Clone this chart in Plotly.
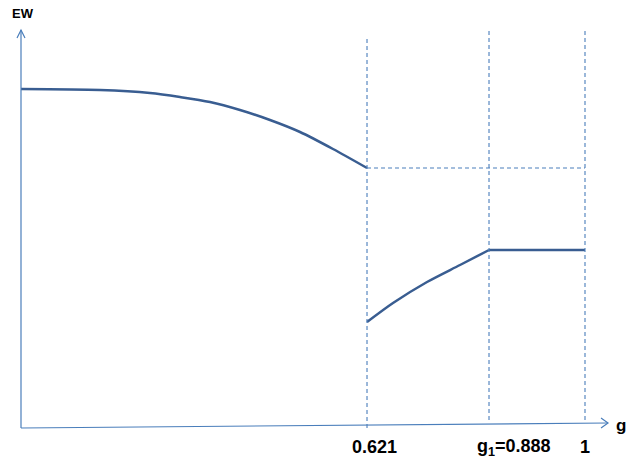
import plotly.graph_objects as go

# ---- data (schematic units: x = g position on axis, y = EW) ----
upper_x = [0.0, 0.1401, 0.2287, 0.2819, 0.3351, 0.3883, 0.4415, 0.4947, 0.5532, 0.6135]
upper_y = [3.39, 3.38, 3.35, 3.31, 3.26, 3.18, 3.08, 2.96, 2.79, 2.60]

lower_x = [0.6135, 0.6596, 0.7199, 0.7784, 0.8298]
lower_y = [1.06, 1.25, 1.46, 1.63, 1.78]

flat_x = [0.8298, 1.0]
flat_y = [1.78, 1.78]

tick_labels = ["0.621", "g<sub>1</sub>=0.888", "1"]
label_pos = [0.6268, 0.8741, 1.0]

vline_x = [0.6135, 0.8298, 1.0]
vline_top = [3.92, 3.98, 3.98]
vline_bottom = [0.0, 0.08, 0.08]

hline_y = 2.60
hline_x = [0.6135, 1.0]

CURVE = "#395d91"
DASH = "#4a7ebb"
AXIS = "#4a7ebb"
FONT = "Liberation Sans, Arial"

fig = go.Figure()
for xs, ys in [(upper_x, upper_y), (lower_x, lower_y), (flat_x, flat_y)]:
    fig.add_trace(go.Scatter(x=xs, y=ys, mode="lines",
                             line=dict(color=CURVE, width=2.5, shape="spline", smoothing=0.8),
                             hoverinfo="skip", showlegend=False))

shapes = []
for vx, t, b in zip(vline_x, vline_top, vline_bottom):
    shapes.append(dict(type="line", x0=vx, x1=vx, y0=b, y1=t, xref="x", yref="y",
                       line=dict(color=DASH, width=1.1, dash="4px,3px")))
shapes.append(dict(type="line", x0=hline_x[0], x1=hline_x[1], y0=hline_y, y1=hline_y,
                   xref="x", yref="y", line=dict(color=DASH, width=1.1, dash="4px,3px")))

# axes with arrows
x_end, x_end_y = 1.0408, 0.05
shapes.append(dict(type="line", x0=0, y0=0, x1=x_end, y1=x_end_y, xref="x", yref="y",
                   line=dict(color=AXIS, width=1.2)))
shapes.append(dict(type="line", x0=0, y0=0, x1=0, y1=3.98, xref="x", yref="y",
                   line=dict(color=AXIS, width=1.2)))
# arrow heads (chevrons)
shapes.append(dict(type="path", xref="x", yref="y",
                   path=f"M {x_end-0.0124},{x_end_y+0.05} L {x_end},{x_end_y} L {x_end-0.0124},{x_end_y-0.05}",
                   line=dict(color=AXIS, width=1.2)))
shapes.append(dict(type="path", xref="x", yref="y",
                   path="M -0.0071,3.90 L 0,3.98 L 0.0071,3.90",
                   line=dict(color=AXIS, width=1.2)))

annotations = []
for p, lab in zip(label_pos, tick_labels):
    annotations.append(dict(x=p, y=-0.19, xref="x", yref="y", text=f"<b>{lab}</b>",
                            showarrow=False, font=dict(size=18, color="black", family=FONT),
                            xanchor="center", yanchor="middle"))
annotations.append(dict(x=-0.019, y=4.15, xref="x", yref="y", text="<b>EW</b>",
                        showarrow=False, font=dict(size=13, color="black", family=FONT),
                        xanchor="left", yanchor="middle"))
annotations.append(dict(x=1.0515, y=0.03, xref="x", yref="y", text="<b>g</b>",
                        showarrow=False, font=dict(size=17, color="black", family=FONT),
                        xanchor="left", yanchor="middle"))

fig.update_layout(
    width=627, height=461,
    margin=dict(l=0, r=0, t=0, b=0),
    paper_bgcolor="white", plot_bgcolor="white",
    xaxis=dict(range=[-21/564, 606/564], visible=False, fixedrange=True),
    yaxis=dict(range=[-0.33, 4.28], visible=False, fixedrange=True),
    shapes=shapes, annotations=annotations,
    showlegend=False,
)

fig.write_html("out.html")
